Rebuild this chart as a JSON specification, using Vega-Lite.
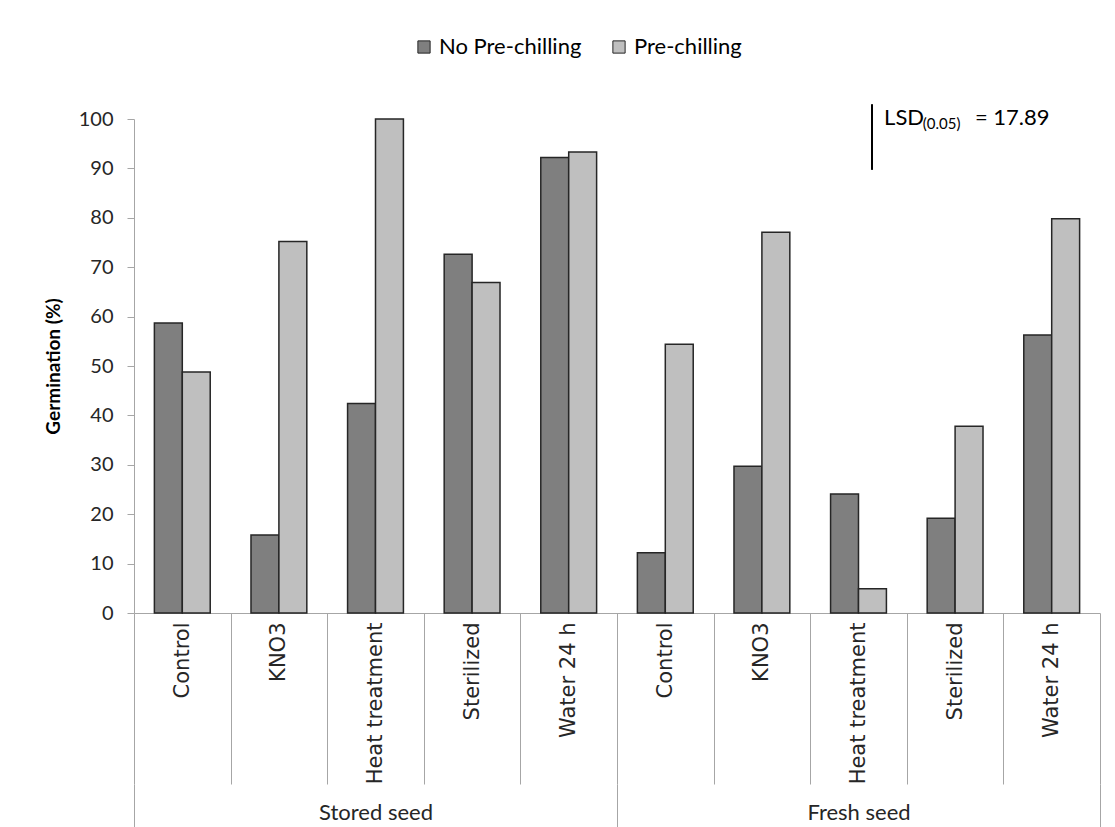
{
  "$schema": "https://vega.github.io/schema/vega-lite/v6.json",
  "padding": {"left": 44, "top": 36, "right": 10, "bottom": 0},
  "background": "white",
  "width": 966,
  "height": 494,
  "data": {
    "values": [
      {"key": "Stored seed|Control", "seed": "Stored seed", "treatment": "Control", "series": "No Pre-chilling", "value": 58.7},
      {"key": "Stored seed|Control", "seed": "Stored seed", "treatment": "Control", "series": "Pre-chilling", "value": 48.8},
      {"key": "Stored seed|KNO3", "seed": "Stored seed", "treatment": "KNO3", "series": "No Pre-chilling", "value": 15.8},
      {"key": "Stored seed|KNO3", "seed": "Stored seed", "treatment": "KNO3", "series": "Pre-chilling", "value": 75.2},
      {"key": "Stored seed|Heat treatment", "seed": "Stored seed", "treatment": "Heat treatment", "series": "No Pre-chilling", "value": 42.4},
      {"key": "Stored seed|Heat treatment", "seed": "Stored seed", "treatment": "Heat treatment", "series": "Pre-chilling", "value": 100},
      {"key": "Stored seed|Sterilized", "seed": "Stored seed", "treatment": "Sterilized", "series": "No Pre-chilling", "value": 72.6},
      {"key": "Stored seed|Sterilized", "seed": "Stored seed", "treatment": "Sterilized", "series": "Pre-chilling", "value": 66.9},
      {"key": "Stored seed|Water 24 h", "seed": "Stored seed", "treatment": "Water 24 h", "series": "No Pre-chilling", "value": 92.2},
      {"key": "Stored seed|Water 24 h", "seed": "Stored seed", "treatment": "Water 24 h", "series": "Pre-chilling", "value": 93.3},
      {"key": "Fresh seed|Control", "seed": "Fresh seed", "treatment": "Control", "series": "No Pre-chilling", "value": 12.2},
      {"key": "Fresh seed|Control", "seed": "Fresh seed", "treatment": "Control", "series": "Pre-chilling", "value": 54.4},
      {"key": "Fresh seed|KNO3", "seed": "Fresh seed", "treatment": "KNO3", "series": "No Pre-chilling", "value": 29.7},
      {"key": "Fresh seed|KNO3", "seed": "Fresh seed", "treatment": "KNO3", "series": "Pre-chilling", "value": 77.1},
      {"key": "Fresh seed|Heat treatment", "seed": "Fresh seed", "treatment": "Heat treatment", "series": "No Pre-chilling", "value": 24.1},
      {"key": "Fresh seed|Heat treatment", "seed": "Fresh seed", "treatment": "Heat treatment", "series": "Pre-chilling", "value": 4.9},
      {"key": "Fresh seed|Sterilized", "seed": "Fresh seed", "treatment": "Sterilized", "series": "No Pre-chilling", "value": 19.2},
      {"key": "Fresh seed|Sterilized", "seed": "Fresh seed", "treatment": "Sterilized", "series": "Pre-chilling", "value": 37.8},
      {"key": "Fresh seed|Water 24 h", "seed": "Fresh seed", "treatment": "Water 24 h", "series": "No Pre-chilling", "value": 56.3},
      {"key": "Fresh seed|Water 24 h", "seed": "Fresh seed", "treatment": "Water 24 h", "series": "Pre-chilling", "value": 79.8}
    ]
  },
  "layer": [
    {
      "mark": {"type": "bar", "stroke": "#262626", "strokeWidth": 1.5},
      "encoding": {
        "x": {
          "field": "key",
          "type": "nominal",
          "sort": ["Stored seed|Control", "Stored seed|KNO3", "Stored seed|Heat treatment", "Stored seed|Sterilized", "Stored seed|Water 24 h", "Fresh seed|Control", "Fresh seed|KNO3", "Fresh seed|Heat treatment", "Fresh seed|Sterilized", "Fresh seed|Water 24 h"],
          "scale": {"paddingInner": 0, "paddingOuter": 0},
          "axis": {
            "orient": "bottom",
            "title": null,
            "labelExpr": "split(datum.label, '|')[1]",
            "labelAngle": -90,
            "labelAlign": "right",
            "labelBaseline": "middle",
            "labelFont": "DejaVu Sans",
            "labelFontSize": 21,
            "labelColor": "#262626",
            "labelPadding": -162,
            "tickBand": "extent",
            "tickSize": 171,
            "tickColor": "#a6a6a6",
            "domainColor": "#a6a6a6"
          }
        },
        "xOffset": {
          "field": "series",
          "sort": ["No Pre-chilling", "Pre-chilling"],
          "scale": {"paddingInner": 0, "paddingOuter": 0.73}
        },
        "y": {
          "field": "value",
          "type": "quantitative",
          "scale": {"domain": [0, 100], "nice": false},
          "axis": {
            "title": "Germination (%)",
            "titleFont": "Lato",
            "titleFontSize": 19,
            "titleFontWeight": "bold",
            "titleColor": "#000000",
            "titlePadding": 15,
            "labelFont": "Lato",
            "labelFontSize": 20,
            "labelColor": "#262626",
            "labelPadding": 14,
            "values": [0, 10, 20, 30, 40, 50, 60, 70, 80, 90, 100],
            "grid": false,
            "tickSize": 7,
            "tickColor": "#a6a6a6",
            "domainColor": "#a6a6a6"
          }
        },
        "fill": {
          "field": "series",
          "type": "nominal",
          "scale": {"domain": ["No Pre-chilling", "Pre-chilling"], "range": ["#7f7f7f", "#bfbfbf"]},
          "legend": {
            "title": null,
            "orient": "none",
            "legendX": 279,
            "legendY": -83,
            "direction": "horizontal",
            "symbolType": "square",
            "symbolSize": 150,
            "symbolStrokeColor": "#262626",
            "symbolStrokeWidth": 1,
            "labelFont": "Lato",
            "labelFontSize": 22,
            "labelColor": "#000000",
            "columnPadding": 26,
            "labelOffset": 4
          }
        }
      }
    },
    {
      "transform": [{"filter": "datum.seed == 'Fresh seed' && datum.treatment == 'Heat treatment' && datum.series == 'No Pre-chilling'"}],
      "layer": [
        {
          "mark": {"type": "rule", "color": "#000000", "strokeWidth": 2},
          "encoding": {
            "x": {
              "field": "seed",
              "type": "nominal",
              "bandPosition": 0.528,
              "scale": {"domain": ["Stored seed", "Fresh seed"], "paddingInner": 0, "paddingOuter": 0},
              "axis": {
                "orient": "bottom",
                "offset": 171,
                "title": null,
                "domain": false,
                "labelAngle": 0,
                "labelAlign": "center",
                "labelBaseline": "top",
                "labelFont": "Lato",
                "labelFontSize": 22,
                "labelColor": "#262626",
                "labelPadding": -27,
                "tickBand": "extent",
                "tickSize": 45,
                "tickColor": "#a6a6a6"
              }
            },
            "y": {"datum": 103, "type": "quantitative"},
            "y2": {"datum": 89.7}
          }
        },
        {
          "mark": {"type": "text", "text": "LSD", "align": "left", "baseline": "alphabetic", "font": "Lato", "fontSize": 22, "color": "#000000"},
          "encoding": {
            "x": {"field": "seed", "type": "nominal", "bandPosition": 0.553},
            "y": {"datum": 98.8, "type": "quantitative"}
          }
        },
        {
          "mark": {"type": "text", "text": "(0.05)", "align": "left", "baseline": "alphabetic", "font": "Lato", "fontSize": 15, "color": "#000000"},
          "encoding": {
            "x": {"field": "seed", "type": "nominal", "bandPosition": 0.633},
            "y": {"datum": 97.9, "type": "quantitative"}
          }
        },
        {
          "mark": {"type": "text", "text": "= 17.89", "align": "left", "baseline": "alphabetic", "font": "Lato", "fontSize": 22, "color": "#000000"},
          "encoding": {
            "x": {"field": "seed", "type": "nominal", "bandPosition": 0.741},
            "y": {"datum": 98.8, "type": "quantitative"}
          }
        }
      ]
    }
  ],
  "resolve": {"scale": {"x": "independent"}},
  "config": {
    "view": {"stroke": null}
  }
}
